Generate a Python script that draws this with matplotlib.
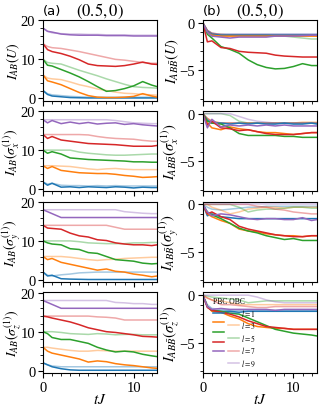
import numpy as np
import matplotlib
matplotlib.use('Agg')
import matplotlib.pyplot as plt
from matplotlib.lines import Line2D
from matplotlib.ticker import MultipleLocator

plt.rcParams['font.family'] = 'serif'
plt.rcParams['font.serif'] = ['Liberation Serif', 'DejaVu Serif']
plt.rcParams['mathtext.fontset'] = 'stix'

# time grid (tJ)
t = [0, 0.5, 1, 2, 3, 4, 5, 6, 7, 8, 9, 10, 11, 12, 12.6]
ls = [1, 3, 5, 7, 9]

# ---- I_AB(U) ----
U_ab_pbc = [
    [2, 1.0, 0.6, 0.4, 0.2, 0.15, 0.1, 0.1, 0.1, 0.1, 0.1, 0.1, 0.1, 0.1, 0.1],
    [6, 4.5, 4.2, 3.5, 2.5, 1.5, 0.7, 0.3, 0.2, 0.2, 0.3, 0.5, 1.2, 0.6, 0.3],
    [10, 8.5, 8.3, 7.4, 6.5, 5.5, 4.3, 3.0, 1.8, 2.0, 2.5, 3.2, 4.3, 3.4, 3.0],
    [14, 12.5, 12.0, 11.5, 10.8, 9.9, 8.8, 8.4, 8.3, 8.2, 8.4, 8.8, 9.3, 8.8, 8.7],
    [18, 17.2, 17.0, 16.5, 16.3, 16.2, 16.2, 16.2, 16.1, 16.1, 16.1, 16.0, 16.0, 16.0, 16.0],
]
U_ab_obc = [
    [2, 1.2, 0.9, 0.7, 0.5, 0.4, 0.3, 0.3, 0.3, 0.3, 0.3, 0.3, 0.3, 0.3, 0.3],
    [6, 5.2, 5.0, 4.8, 4.2, 3.5, 3.0, 2.4, 2.0, 1.6, 1.3, 1.2, 1.0, 0.9, 0.8],
    [10, 9.2, 9.0, 8.8, 8.0, 7.2, 6.5, 5.8, 5.0, 4.3, 3.6, 3.0, 2.8, 2.7, 2.6],
    [14, 13.3, 13.0, 12.8, 12.4, 12.0, 11.5, 11.0, 10.5, 10.0, 9.8, 9.5, 9.2, 9.0, 9.0],
    [18, 17.2, 16.8, 16.6, 16.5, 16.5, 16.4, 16.4, 16.3, 16.3, 16.3, 16.2, 16.2, 16.2, 16.2],
]

# ---- I_ABB(U) ----
U_abb_pbc = [
    [0, -0.9, -1.2, -1.3, -1.3, -1.3, -1.3, -1.3, -1.3, -1.3, -1.3, -1.3, -1.3, -1.3, -1.3],
    [0, -1.0, -1.3, -1.4, -1.4, -1.4, -1.4, -1.4, -1.4, -1.4, -1.4, -1.4, -1.4, -1.4, -1.4],
    [0, -1.2, -1.6, -2.5, -2.8, -3.2, -3.9, -4.4, -4.7, -4.85, -4.8, -4.6, -4.3, -4.5, -4.5],
    [0, -2.0, -1.9, -2.6, -2.7, -3.0, -3.1, -3.15, -3.2, -3.4, -3.5, -3.55, -3.6, -3.6, -3.6],
    [0, -1.0, -1.4, -1.5, -1.6, -1.5, -1.5, -1.5, -1.5, -1.4, -1.4, -1.4, -1.35, -1.3, -1.3],
]
U_abb_obc = [
    [0, -0.8, -1.1, -1.2, -1.2, -1.2, -1.2, -1.2, -1.2, -1.2, -1.2, -1.2, -1.2, -1.2, -1.2],
    [0, -0.8, -1.1, -1.2, -1.3, -1.3, -1.3, -1.3, -1.3, -1.3, -1.3, -1.3, -1.3, -1.3, -1.3],
    [0, -0.9, -1.2, -1.3, -1.3, -1.3, -1.3, -1.3, -1.3, -1.4, -1.4, -1.5, -1.6, -1.7, -1.7],
    [0, -0.8, -1.1, -1.3, -1.3, -1.3, -1.3, -1.3, -1.3, -1.3, -1.3, -1.3, -1.3, -1.3, -1.3],
    [0, -0.8, -1.1, -1.2, -1.2, -1.2, -1.2, -1.2, -1.2, -1.2, -1.2, -1.2, -1.2, -1.2, -1.2],
]

# ---- I_AB(sigma_x) ----
sx_ab_pbc = [
    [1.8, 1.0, 1.5, 0.5, 0.6, 0.4, 0.6, 0.5, 0.4, 0.6, 0.5, 0.3, 0.5, 0.4, 0.4],
    [6, 5.3, 5.8, 4.8, 4.5, 4.2, 4.1, 4.0, 4.0, 3.8, 3.5, 3.3, 3.0, 3.1, 3.2],
    [10, 9.2, 9.6, 9.0, 8.0, 7.8, 7.6, 7.5, 7.4, 7.3, 7.2, 7.0, 7.0, 6.9, 6.9],
    [14, 13.0, 13.5, 12.6, 12.3, 12.0, 11.7, 11.6, 11.5, 11.4, 11.2, 11.0, 11.0, 11.0, 11.2],
    [17.8, 17.0, 17.6, 16.8, 17.2, 16.8, 17.1, 16.7, 16.9, 17.0, 16.6, 16.8, 16.5, 16.3, 16.2],
]
sx_ab_obc = [
    [1.8, 1.3, 1.5, 1.0, 0.9, 0.9, 0.8, 0.9, 0.8, 0.9, 0.8, 0.8, 0.8, 0.8, 0.8],
    [6, 6.0, 6.0, 5.9, 5.8, 5.5, 5.2, 5.0, 5.2, 5.3, 5.1, 5.0, 5.0, 5.0, 5.0],
    [10, 10, 10, 10, 10, 9.5, 9.2, 9.0, 8.8, 8.7, 8.7, 8.8, 8.9, 9.0, 9.0],
    [14, 14, 14, 14, 14, 14, 13.9, 13.5, 13.2, 13.0, 12.9, 12.8, 12.5, 12.3, 12.3],
    [17.8, 17.8, 17.8, 17.8, 17.8, 17.8, 17.8, 17.8, 17.8, 17.6, 17.3, 17.0, 16.9, 16.8, 16.8],
]

# ---- I_ABB(sigma_x) ----
sx_abb_pbc = [
    [0, -0.7, -1.0, -1.0, -1.1, -1.0, -1.1, -1.0, -1.1, -1.1, -1.0, -1.1, -1.1, -1.0, -1.1],
    [0, -1.0, -1.5, -1.7, -1.4, -1.6, -1.7, -1.9, -2.0, -2.0, -2.1, -2.2, -2.1, -2.0, -2.0],
    [0, -0.8, -1.0, -1.1, -1.5, -2.1, -2.3, -2.3, -2.3, -2.3, -2.4, -2.4, -2.5, -2.5, -2.5],
    [0, -1.2, -0.8, -1.5, -1.6, -1.8, -1.7, -1.9, -2.1, -2.2, -2.2, -2.2, -2.1, -2.0, -2.0],
    [0, -1.5, -0.6, -1.4, -1.2, -1.3, -1.2, -1.3, -1.2, -1.3, -1.2, -1.3, -1.3, -1.3, -1.3],
]
sx_abb_obc = [
    [0, -0.6, -0.9, -1.0, -1.0, -1.0, -1.0, -1.0, -1.0, -1.0, -1.0, -1.0, -1.0, -1.0, -1.0],
    [0, -0.5, -0.8, -1.0, -1.0, -1.0, -1.0, -1.0, -1.0, -1.0, -1.0, -1.0, -0.9, -0.9, -0.9],
    [0, 0, 0, 0, -0.2, -0.8, -1.0, -1.0, -1.0, -1.0, -1.0, -1.0, -1.0, -1.0, -1.0],
    [0, -0.5, -0.8, -1.0, -1.0, -1.0, -1.0, -1.0, -1.0, -1.0, -1.0, -1.0, -1.0, -1.0, -1.0],
    [0, 0, 0, 0, 0, -0.3, -0.6, -0.8, -0.9, -1.0, -1.0, -1.0, -1.0, -1.0, -1.0],
]

# ---- I_AB(sigma_y) ----
sy_ab_pbc = [
    [2, 1.0, 1.2, 0.3, 0.2, 0.15, 0.1, 0.1, 0.1, 0.1, 0.1, 0.1, 0.1, 0.1, 0.1],
    [6, 5.2, 5.5, 4.5, 4.0, 3.5, 3.0, 2.5, 2.8, 2.2, 2.0, 1.5, 1.2, 0.8, 1.0],
    [10, 9.5, 9.2, 9.0, 8.0, 7.8, 7.0, 6.8, 6.0, 5.2, 5.0, 4.8, 4.3, 4.1, 4.2],
    [14, 13.3, 13.2, 13.0, 12.0, 11.3, 11.0, 10.3, 10.1, 9.5, 9.2, 9.0, 9.0, 8.8, 9.0],
    [18, 17.5, 17.0, 16.0, 16.0, 16.0, 16.0, 16.0, 16.0, 16.0, 16.0, 16.0, 16.0, 16.0, 16.0],
]
sy_ab_obc = [
    [2, 1.2, 1.0, 1.3, 1.5, 1.8, 1.9, 2.0, 2.0, 2.0, 2.0, 2.0, 2.0, 2.0, 2.0],
    [6, 6, 6, 6, 5.8, 5.5, 5.2, 5.0, 5.2, 5.3, 5.5, 5.6, 5.7, 5.8, 5.8],
    [10, 10, 10, 10, 10, 9.8, 9.5, 9.4, 9.3, 9.3, 9.3, 9.5, 9.5, 9.6, 9.6],
    [14, 14, 14, 14, 14, 14, 14, 14, 14, 13.5, 13.0, 13.0, 13.0, 13.0, 13.0],
    [18, 18, 18, 18, 18, 18, 18, 18, 18, 18, 17.5, 17.3, 17.1, 17.0, 17.0],
]

# ---- I_ABB(sigma_y) ----
sy_abb_pbc = [
    [0, -1.2, -1.0, -1.3, -1.4, -1.5, -1.5, -1.5, -1.5, -1.5, -1.5, -1.5, -1.5, -1.5, -1.5],
    [0, -1.0, -1.3, -1.7, -2.0, -2.6, -2.8, -2.9, -3.1, -3.2, -3.3, -3.3, -3.4, -3.3, -3.3],
    [0, -0.8, -1.1, -1.5, -2.0, -2.5, -2.8, -3.0, -3.3, -3.5, -3.7, -3.6, -3.8, -3.8, -3.8],
    [0, -1.0, -0.8, -1.3, -1.6, -2.3, -2.6, -2.8, -3.0, -3.2, -3.3, -3.4, -3.4, -3.3, -3.3],
    [0, -0.8, -1.2, -1.0, -1.1, -1.3, -1.5, -1.6, -1.5, -1.5, -1.6, -1.6, -1.4, -1.7, -1.6],
]
sy_abb_obc = [
    [0, -0.3, -0.5, -0.6, -0.5, -0.4, -0.3, -0.3, -0.2, -0.2, -0.2, -0.2, -0.2, -0.2, -0.2],
    [0, 0, -0.3, -0.6, -1.0, -0.8, -0.5, -0.4, -0.3, -0.3, -0.4, -0.3, -0.3, -0.3, -0.3],
    [0, 0, 0, 0, 0, -0.3, -0.8, -0.6, -0.5, -0.5, -0.4, -0.3, -0.3, -0.4, -0.4],
    [0, 0, 0, 0, 0, 0, 0, -0.2, -0.3, -0.5, -0.6, -0.8, -0.9, -1.0, -1.0],
    [0, 0, 0, 0, 0, 0, 0, 0, 0, 0, 0, 0, 0, 0, 0],
]

# ---- I_AB(sigma_z) ----
sz_ab_pbc = [
    [2, 1.5, 1.0, 0.5, 0.2, 0.1, 0.1, 0.1, 0.1, 0.1, 0.1, 0.1, 0.1, 0.1, 0.1],
    [6, 5.0, 4.5, 4.0, 3.5, 3.0, 2.2, 2.5, 2.3, 1.8, 1.5, 1.3, 1.0, 0.7, 0.6],
    [10, 9.5, 8.5, 8.0, 8.0, 7.5, 7.0, 6.0, 5.3, 4.8, 5.0, 4.8, 4.2, 3.8, 3.6],
    [14, 13.8, 13.5, 13.0, 12.5, 11.8, 11.0, 10.5, 10.0, 9.8, 9.5, 9.2, 8.8, 8.7, 8.6],
    [18, 17.5, 17.0, 16.0, 16.0, 16.0, 16.0, 16.0, 16.0, 16.0, 16.0, 16.0, 16.0, 16.0, 16.0],
]
sz_ab_obc = [
    [2, 1.5, 1.2, 1.0, 1.0, 1.0, 1.0, 1.0, 1.0, 1.0, 1.0, 1.0, 1.0, 1.0, 1.0],
    [6, 6.0, 5.8, 5.5, 5.2, 5.0, 5.0, 5.2, 5.1, 5.0, 5.0, 5.0, 5.0, 5.0, 5.0],
    [10, 10, 10, 9.8, 9.5, 9.4, 9.3, 9.5, 9.4, 9.2, 9.3, 9.3, 9.2, 9.2, 9.2],
    [14, 14, 14, 14, 14, 14, 14, 13.8, 13.7, 13.5, 13.0, 13.0, 13.0, 13.0, 13.0],
    [18, 18, 18, 18, 18, 18, 18, 18, 18, 17.5, 17.4, 17.2, 17.2, 17.0, 17.0],
]

# ---- I_ABB(sigma_z) ----
sz_abb_pbc = [
    [0, -1.2, -1.6, -1.7, -1.7, -1.8, -1.7, -1.7, -1.7, -1.7, -1.7, -1.7, -1.7, -1.7, -1.7],
    [0, -1.2, -1.7, -1.8, -2.2, -2.5, -3.0, -3.3, -3.4, -3.5, -3.5, -3.6, -3.6, -3.6, -3.6],
    [0, -1.2, -1.6, -1.7, -1.9, -2.0, -2.4, -2.8, -3.2, -3.6, -3.8, -4.0, -4.1, -4.2, -4.3],
    [0, -1.3, -1.6, -1.8, -2.0, -2.3, -2.7, -3.0, -3.3, -3.4, -3.5, -3.6, -3.6, -3.6, -3.6],
    [0, -1.2, -1.5, -1.4, -1.5, -1.5, -1.5, -1.5, -1.5, -1.6, -1.5, -1.5, -1.5, -1.5, -1.5],
]
sz_abb_obc = [
    [0, -1.0, -1.4, -1.5, -1.6, -1.6, -1.6, -1.6, -1.6, -1.6, -1.6, -1.6, -1.6, -1.6, -1.6],
    [0, -0.3, -0.5, -0.6, -0.8, -1.0, -1.0, -1.0, -1.0, -1.0, -1.0, -1.0, -1.0, -1.0, -1.0],
    [0, -0.1, -0.2, -0.3, -0.4, -0.5, -0.8, -0.7, -0.6, -0.6, -0.6, -0.6, -0.6, -0.6, -0.6],
    [0, -0.3, -0.5, -1.0, -1.0, -1.1, -1.2, -1.3, -1.3, -1.2, -1.2, -1.2, -1.2, -1.2, -1.2],
    [0, 0, 0, 0, 0, 0, 0, -0.2, -0.5, -0.7, -0.8, -0.8, -0.8, -0.8, -0.8],
]

colors = ['C0', 'C1', 'C2', 'C3', 'C4']

left_data = [(U_ab_pbc, U_ab_obc), (sx_ab_pbc, sx_ab_obc),
             (sy_ab_pbc, sy_ab_obc), (sz_ab_pbc, sz_ab_obc)]
right_data = [(U_abb_pbc, U_abb_obc), (sx_abb_pbc, sx_abb_obc),
              (sy_abb_pbc, sy_abb_obc), (sz_abb_pbc, sz_abb_obc)]
ops = ['U', r'\sigma_x^{(1)}', r'\sigma_y^{(1)}', r'\sigma_z^{(1)}']

fig, axes = plt.subplots(4, 2, figsize=(3.32, 4.06), dpi=100)
fig.subplots_adjust(left=43/332, right=317/332, top=1-21/406, bottom=1-374/406,
                    hspace=0.125, wspace=0.40)

for row in range(4):
    for col in range(2):
        ax = axes[row, col]
        pbc, obc = (left_data if col == 0 else right_data)[row]
        for k in range(5):
            ax.plot(t, obc[k], color=colors[k], alpha=0.4, lw=1.1)
        for k in range(5):
            ax.plot(t, pbc[k], color=colors[k], lw=1.1)
        ax.set_xlim(0, 12.6)
        ax.xaxis.set_major_locator(MultipleLocator(10))
        ax.xaxis.set_minor_locator(MultipleLocator(1))
        if col == 0:
            ax.set_ylim(-0.6, 20.1)
            ax.yaxis.set_major_locator(MultipleLocator(10))
            ax.yaxis.set_minor_locator(MultipleLocator(2))
            ax.set_ylabel(r'$I_{AB}(%s)$' % ops[row], fontsize=10)
            ax.yaxis.set_label_coords(-0.18, 0.5)
        else:
            ax.set_ylim(-8.2, 0.3)
            ax.yaxis.set_major_locator(MultipleLocator(5))
            ax.yaxis.set_minor_locator(MultipleLocator(1))
            ax.set_ylabel(r'$I_{AB\bar{B}}(%s)$' % ops[row], fontsize=10.5, labelpad=-1)
        ax.tick_params(labelsize=10.5, length=3.5, width=0.8, pad=2)
        ax.tick_params(which='minor', length=2, width=0.6)
        if row < 3:
            ax.set_xticklabels([])
        else:
            ax.set_xlabel(r'$tJ$', fontsize=11, labelpad=-1)

for col, tag in enumerate(['(a)', '(b)']):
    axes[0, col].set_title(tag, loc='left', family='DejaVu Sans', fontsize=9.5, pad=4)
    axes[0, col].set_title(r'$(0.5,0)$', loc='center', fontsize=12, pad=4)

# legend: PBC column, OBC column, label
dark = [Line2D([], [], color=c, lw=1.1) for c in colors]
light = [Line2D([], [], color=c, lw=1.1, alpha=0.4) for c in colors]
labels = [''] * 5 + [r'$l=%d$' % l for l in ls]
axes[3, 1].legend(dark + light, labels, ncol=2, loc='lower left',
                  bbox_to_anchor=(0.03, -0.02), frameon=False, fontsize=5.5,
                  title='PBC OBC', title_fontsize=5.5, alignment='left',
                  handlelength=1.4, handletextpad=0.35, columnspacing=0.2,
                  labelspacing=0.2, borderpad=0.4)

fig.savefig('out.png', dpi=100)
